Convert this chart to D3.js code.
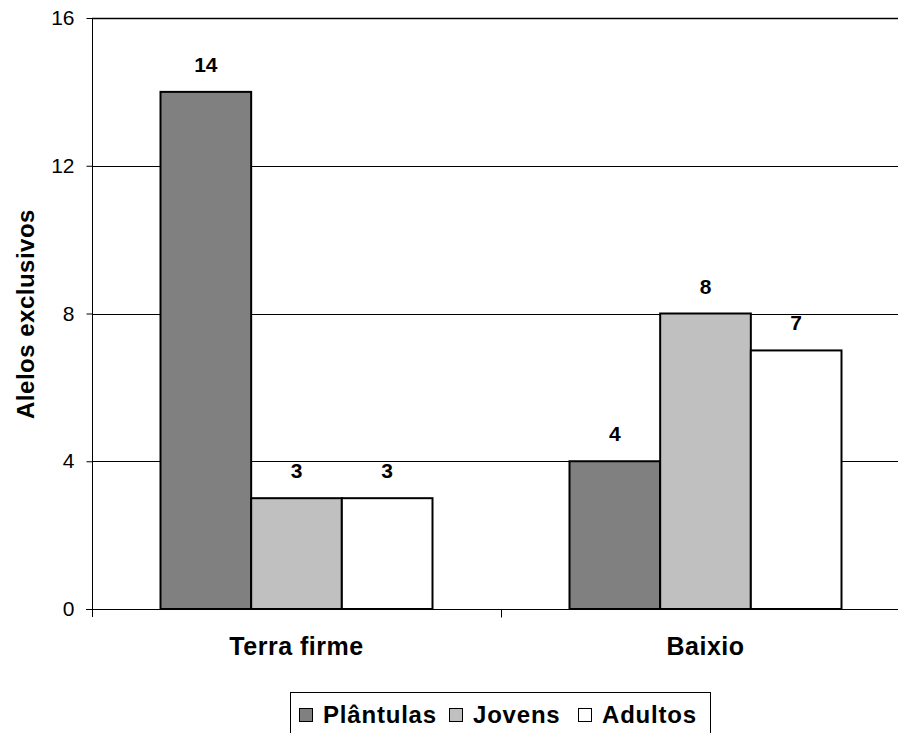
<!DOCTYPE html>
<html>
<head>
<meta charset="utf-8">
<script src="https://cdn.jsdelivr.net/npm/d3@7"></script>
<style>
  html, body { margin: 0; padding: 0; background: #fff; }
  svg { display: block; font-family: "Liberation Sans", Arial, sans-serif; }
</style>
</head>
<body>
<svg id="chart" width="898" height="733"></svg>
<script>
// Exclusive alleles per habitat and life stage
const categories = ["Terra firme", "Baixio"];
const seriesNames = ["Plântulas", "Jovens", "Adultos"];
const plantulas = [14, 4];
const jovens = [3, 8];
const adultos = [3, 7];
const yTicks = [0, 4, 8, 12, 16];
const seriesColors = ["#808080", "#c0c0c0", "#ffffff"];

const seriesValues = [plantulas, jovens, adultos];

const svg = d3.select("#chart");
const margin = { left: 92, top: 18, right: 910, bottom: 609 };

const x = d3.scaleBand().domain(categories).range([margin.left, margin.right]).paddingInner(0).paddingOuter(0);
const xInner = d3.scaleBand().domain(seriesNames).range([0, 272]);
const y = d3.scaleLinear().domain([0, 16]).range([margin.bottom, margin.top]);

// Horizontal gridlines
svg.append("g")
  .selectAll("line")
  .data(yTicks.filter(d => d > 0))
  .join("line")
  .attr("x1", margin.left).attr("x2", margin.right)
  .attr("y1", d => Math.round(y(d)) + 0.5).attr("y2", d => Math.round(y(d)) + 0.5)
  .attr("stroke", "#000").attr("stroke-width", d => d === 16 ? 1.5 : 1);

// Bars
const groups = svg.append("g")
  .selectAll("g")
  .data(categories)
  .join("g")
  .attr("transform", c => `translate(${x(c) + (x.bandwidth() - 272) / 2},0)`);

groups.selectAll("rect")
  .data((c, i) => seriesNames.map((s, j) => ({ s, v: seriesValues[j][i], j })))
  .join("rect")
  .attr("x", d => xInner(d.s))
  .attr("y", d => y(d.v))
  .attr("width", xInner.bandwidth())
  .attr("height", d => y(0) - y(d.v))
  .attr("fill", d => seriesColors[d.j])
  .attr("stroke", "#000")
  .attr("stroke-width", 2);

// Value labels
groups.selectAll("text")
  .data((c, i) => seriesNames.map((s, j) => ({ s, v: seriesValues[j][i] })))
  .join("text")
  .attr("x", d => xInner(d.s) + xInner.bandwidth() / 2)
  .attr("y", d => y(d.v) - 20)
  .attr("text-anchor", "middle")
  .attr("font-size", 21)
  .attr("font-weight", "bold")
  .text(d => d.v);

// Y axis
const yAxis = svg.append("g")
  .attr("transform", `translate(${margin.left + 0.5},0)`)
  .call(d3.axisLeft(y).tickValues(yTicks).tickSize(6).tickPadding(12).tickFormat(d3.format("d")));
yAxis.select(".domain").attr("stroke", "#000").attr("d", `M0,${margin.top}V${margin.bottom + 8}`);
yAxis.selectAll("text")
  .attr("font-size", 21)
  .attr("font-family", "Liberation Sans, Arial, sans-serif")
  .attr("fill", "#000");

// X axis
const xAxisG = svg.append("g").attr("transform", `translate(0,${margin.bottom + 0.5})`);
xAxisG.append("line").attr("x1", margin.left - 6).attr("x2", margin.right).attr("stroke", "#000");
xAxisG.selectAll("line.tick")
  .data(categories.slice(1))
  .join("line")
  .attr("class", "tick")
  .attr("x1", c => Math.round(x(c)) + 0.5).attr("x2", c => Math.round(x(c)) + 0.5)
  .attr("y1", 0).attr("y2", 8)
  .attr("stroke", "#000");
xAxisG.selectAll("text")
  .data(categories)
  .join("text")
  .attr("x", c => x(c) + x.bandwidth() / 2)
  .attr("y", 45)
  .attr("text-anchor", "middle")
  .attr("font-size", 25)
  .attr("font-weight", "bold")
  .attr("letter-spacing", 0.5)
  .text(c => c);

// Y axis title
svg.append("text")
  .attr("transform", `translate(34,314) rotate(-90)`)
  .attr("text-anchor", "middle")
  .attr("font-size", 24)
  .attr("font-weight", "bold")
  .attr("letter-spacing", 0.5)
  .text("Alelos exclusivos");

// Legend
const legend = svg.append("g");
legend.append("rect")
  .attr("x", 290.5).attr("y", 692.5).attr("width", 420).attr("height", 60)
  .attr("fill", "#fff").attr("stroke", "#000");
const legendX = [299, 449, 578];
const legendItems = legend.selectAll("g")
  .data(seriesNames)
  .join("g")
  .attr("transform", (d, i) => `translate(${legendX[i]},0)`);
legendItems.append("rect")
  .attr("x", 0.5).attr("y", 708.5).attr("width", 13).attr("height", 13)
  .attr("fill", (d, i) => seriesColors[i]).attr("stroke", "#000");
legendItems.append("text")
  .attr("x", 24).attr("y", 723)
  .attr("font-size", 24)
  .attr("font-weight", "bold")
  .attr("letter-spacing", 0.8)
  .text(d => d);
</script>
</body>
</html>
